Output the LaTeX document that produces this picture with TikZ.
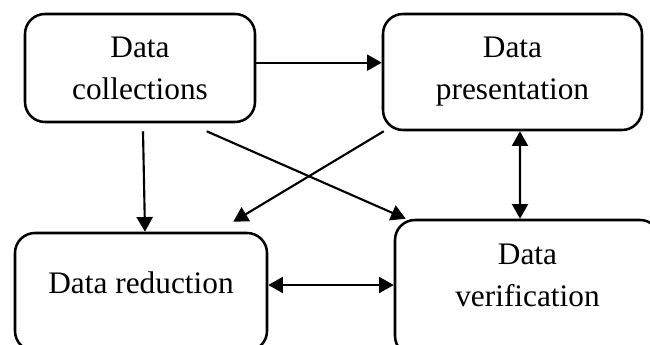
\documentclass[tikz,border=0pt]{standalone}
\usepackage{fontspec}
\setmainfont{Liberation Serif}
\usetikzlibrary{arrows.meta}

\begin{document}
\begin{tikzpicture}[x=0.75pt, y=-0.75pt,
  box/.style={draw, line width=1.9pt, rounded corners=15pt, align=center, inner sep=0pt,
    font=\fontsize{23.5}{31.5}\selectfont},
  arr/.style={line width=1.6pt, -{Triangle[length=11pt,width=12pt]}},
  dbl/.style={line width=1.6pt, {Triangle[length=11pt,width=12pt]}-{Triangle[length=11pt,width=12pt]}}]
  \useasboundingbox (0,0) rectangle (650,345);

  \node[box, minimum width=172.5pt, minimum height=81pt] (coll) at (140,68)   {Data\\collections};
  \node[box, minimum width=194.25pt, minimum height=87pt] (pres) at (512.5,72) {Data\\presentation};
  \node[box, minimum width=189pt, minimum height=88.5pt, text depth=13.5pt] (red) at (141,292) {Data reduction};
  \node[box, minimum width=198.75pt, minimum height=102pt, text depth=19.5pt] (ver) at (527.5,288) {Data\\verification};

  \draw[arr] ([yshift=4pt]coll.east) -- ([yshift=4pt]coll.east -| pres.west);
  \draw[arr] ([xshift=2.25pt,yshift=-6pt]coll.south) -- ([xshift=3pt]red.north);
  \draw[arr] ([xshift=50pt,yshift=-6pt]coll.south) -- ([xshift=9pt]ver.north west);
  \draw[arr] ([xshift=1.5pt]pres.south west) -- ([xshift=-26.25pt,yshift=7.5pt]red.north east);
  \draw[dbl] ([xshift=5.6pt]pres.south) -- ([xshift=-5.6pt]ver.north);
  \draw[dbl] ([yshift=5.25pt]red.east) -- ([yshift=5.25pt]red.east -| ver.west);
\end{tikzpicture}
\end{document}
